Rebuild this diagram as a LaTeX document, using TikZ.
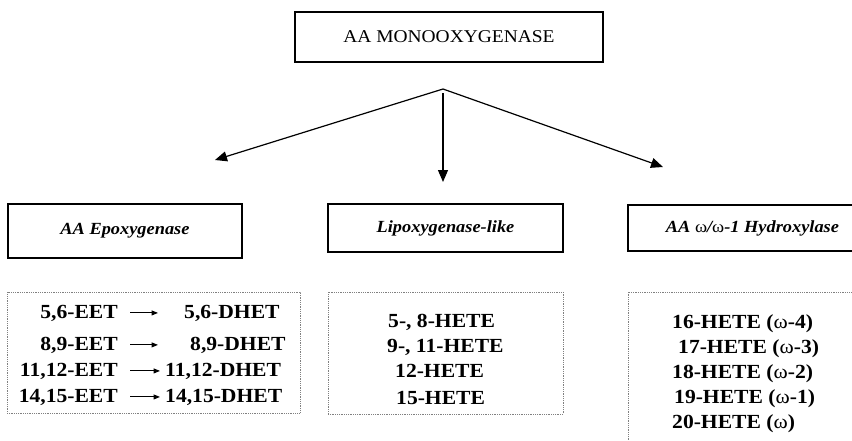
\documentclass[tikz,border=0pt]{standalone}
\usepackage{fontspec}
\setmainfont[FakeStretch=1.08]{Liberation Serif}
\usetikzlibrary{arrows.meta}
\tikzset{mybox/.style={draw,line width=1.3pt,inner sep=0pt}}
\tikzset{mylist/.style={draw=gray,densely dotted,line width=0.8pt,inner sep=0pt}}
\tikzset{mydraw/.style={line width=1.2pt,-{Triangle[length=12pt,width=10pt]}}}
\tikzset{rxn/.style={line width=1pt,-{Triangle[length=6.5pt,width=5pt]}}}
\tikzset{mynode/.style={inner sep=0pt,font=\fontsize{20}{22}\selectfont\bfseries}}
\tikzset{myhead/.style={font=\fontsize{17}{20}\selectfont\bfseries\itshape}}
\newcommand{\om}{{\mdseries\upshape ω}}

\begin{document}
\begin{tikzpicture}[x=1pt,y=-1pt]
	\clip (0,0) rectangle (852,440);

	% Top enzyme
	\node[mybox,minimum width=308pt,minimum height=50pt,font=\fontsize{18}{20}\selectfont] (mono) at (449,37) {AA MONOOXYGENASE};

	% Branches
	\node[mybox,myhead,minimum width=234pt,minimum height=54pt] (epox) at (125,231) {AA Epoxygenase};
	\node[mybox,myhead,minimum width=235pt,minimum height=48pt] (lipox) at (445.5,228) {Lipoxygenase-like};
	\node[mybox,myhead,minimum width=249pt,minimum height=46pt] (hydrox) at (752.5,228) {AA \om/\om-1 Hydroxylase};

	\coordinate (hub) at (443,89);
	\coordinate (tipL) at (215,160);
	\coordinate (tipM) at (443,182);
	\coordinate (tipR) at (663,167);
	\draw[mydraw] (hub) -- (tipL);
	\draw[mydraw] ([yshift=-4pt]hub) -- (tipM);
	\draw[mydraw] (hub) -- (tipR);

	% Product lists
	\node[mylist,minimum width=293pt,minimum height=121pt] (epoxlist) at (153.5,352.5) {};
	\node[mylist,minimum width=235pt,minimum height=122pt] (lipoxlist) at (445.5,353) {};
	\node[mylist,minimum width=272pt,minimum height=178pt] (hydroxlist) at (764,381) {};

	\node[mynode,anchor=base east] (e1) at (118,318) {5,6-EET};
	\node[mynode,anchor=base east] (e2) at (118,350) {8,9-EET};
	\node[mynode,anchor=base east] (e3) at (118,376) {11,12-EET};
	\node[mynode,anchor=base east] (e4) at (118,402) {14,15-EET};
	\node[mynode,anchor=base west] (d1) at (184,318) {5,6-DHET};
	\node[mynode,anchor=base west] (d2) at (190,350) {8,9-DHET};
	\node[mynode,anchor=base west] (d3) at (165,376) {11,12-DHET};
	\node[mynode,anchor=base west] (d4) at (165,402) {14,15-DHET};
	\draw[rxn,shorten <=12pt,shorten >=26pt] (e1) -- (d1);
	\draw[rxn,shorten <=12pt,shorten >=32pt] (e2) -- (d2);
	\draw[rxn,shorten <=12pt,shorten >=5pt] (e3) -- (d3);
	\draw[rxn,shorten <=12pt,shorten >=5pt] (e4) -- (d4);

	\node[mynode,anchor=base west] (h58) at (388,327) {5-, 8-HETE};
	\node[mynode,anchor=base west] (h911) at (387,352) {9-, 11-HETE};
	\node[mynode,anchor=base west] (h12) at (395,377) {12-HETE};
	\node[mynode,anchor=base west] (h15) at (396,404) {15-HETE};

	\node[mynode,anchor=base west] (h16) at (672,328) {16-HETE (\om-4)};
	\node[mynode,anchor=base west] (h17) at (678,353) {17-HETE (\om-3)};
	\node[mynode,anchor=base west] (h18) at (672,378) {18-HETE (\om-2)};
	\node[mynode,anchor=base west] (h19) at (674,403) {19-HETE (\om-1)};
	\node[mynode,anchor=base west] (h20) at (672,428) {20-HETE (\om)};
\end{tikzpicture}
\end{document}
